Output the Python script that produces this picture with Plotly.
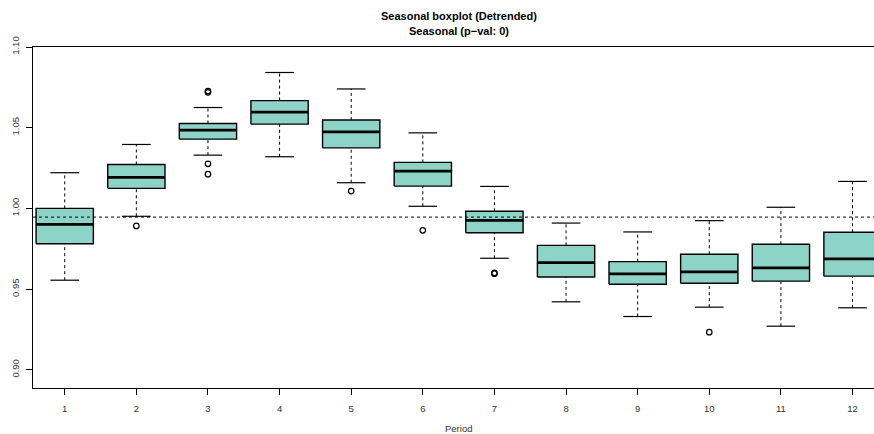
import plotly.graph_objects as go

periods = [1, 2, 3, 4, 5, 6, 7, 8, 9, 10, 11, 12]
lower_whisker = [0.9555, 0.9951, 1.0330, 1.0320, 1.0159, 1.0013, 0.9691, 0.9421, 0.9330, 0.9388, 0.9270, 0.9384]
q1 = [0.9781, 1.0124, 1.0429, 1.0522, 1.0375, 1.0138, 0.9849, 0.9575, 0.9530, 0.9536, 0.9549, 0.9580]
median = [0.9901, 1.0192, 1.0485, 1.0596, 1.0474, 1.0231, 0.9926, 0.9664, 0.9594, 0.9606, 0.9631, 0.9687]
q3 = [1.0000, 1.0272, 1.0526, 1.0668, 1.0548, 1.0285, 0.9982, 0.9771, 0.9670, 0.9716, 0.9778, 0.9852]
upper_whisker = [1.0221, 1.0396, 1.0625, 1.0842, 1.0740, 1.0468, 1.0136, 0.9909, 0.9854, 0.9924, 1.0007, 1.0167]
outlier_period = [2, 3, 3, 3, 3, 5, 6, 7, 7, 10]
outlier_value = [0.9891, 1.0727, 1.0719, 1.0276, 1.0212, 1.0107, 0.9864, 0.9600, 0.9595, 0.9233]
reference_level = 0.9946
tick_vals_y = [0.90, 0.95, 1.00, 1.05, 1.10]
tick_text_y = ["0.90", "0.95", "1.00", "1.05", "1.10"]

FILL = "#8DD3C7"
BOX_HALF = 0.4
CAP_HALF = 0.2

fig = go.Figure()

# whiskers (dashed)
wx, wy = [], []
for p, lw, a, b, uw in zip(periods, lower_whisker, q1, q3, upper_whisker):
    wx += [p, p, None, p, p, None]
    wy += [lw, a, None, b, uw, None]
fig.add_trace(go.Scatter(x=wx, y=wy, mode="lines",
                         line=dict(color="black", width=1, dash="3px,3px"),
                         hoverinfo="skip", showlegend=False))

# caps
cx, cy = [], []
for p, lw, uw in zip(periods, lower_whisker, upper_whisker):
    cx += [p - CAP_HALF, p + CAP_HALF, None, p - CAP_HALF, p + CAP_HALF, None]
    cy += [lw, lw, None, uw, uw, None]
fig.add_trace(go.Scatter(x=cx, y=cy, mode="lines",
                         line=dict(color="black", width=1.2),
                         hoverinfo="skip", showlegend=False))

# boxes
for p, a, b in zip(periods, q1, q3):
    fig.add_trace(go.Scatter(
        x=[p - BOX_HALF, p + BOX_HALF, p + BOX_HALF, p - BOX_HALF, p - BOX_HALF],
        y=[a, a, b, b, a], mode="lines", fill="toself", fillcolor=FILL,
        line=dict(color="black", width=1.4), hoverinfo="skip", showlegend=False))

# medians
mx, my = [], []
for p, m in zip(periods, median):
    mx += [p - BOX_HALF, p + BOX_HALF, None]
    my += [m, m, None]
fig.add_trace(go.Scatter(x=mx, y=my, mode="lines",
                         line=dict(color="black", width=2.8),
                         hoverinfo="skip", showlegend=False))

# outliers
fig.add_trace(go.Scatter(x=outlier_period, y=outlier_value, mode="markers",
                         marker=dict(symbol="circle-open", size=5.5, color="black",
                                     line=dict(width=1.2, color="black")),
                         hoverinfo="skip", showlegend=False))

# reference level
fig.add_hline(y=reference_level, line=dict(color="black", width=1, dash="3px,3px"))

FONT = "Liberation Sans, Arial, Helvetica, sans-serif"

fig.update_layout(
    width=874, height=434,
    margin=dict(l=33, r=0, t=47, b=46),
    paper_bgcolor="white", plot_bgcolor="white",
    font=dict(family=FONT, size=9.5, color="#333"),
    xaxis=dict(range=[0.557, 12.30], tickvals=periods,
               ticktext=[str(p) for p in periods],
               showgrid=False, zeroline=False, showline=True, linecolor="black",
               linewidth=1.3, mirror=True, ticks="outside", ticklen=6,
               tickcolor="black", tickwidth=1, ticklabelstandoff=5),
    yaxis=dict(range=[0.8887, 1.10], tickvals=tick_vals_y, ticktext=tick_text_y,
               showgrid=False, zeroline=False, showline=True, linecolor="black",
               linewidth=1.3, ticks="outside", ticklen=6, tickcolor="black",
               tickwidth=1, tickangle=-90, ticklabelstandoff=3),
    annotations=[
        dict(text="<b>Seasonal boxplot (Detrended)</b>", x=0.506, y=1.0899,
             xref="paper", yref="paper", showarrow=False, xanchor="center",
             yanchor="middle", font=dict(size=11, color="black", family=FONT)),
        dict(text="<b>Seasonal (p\u2212val: 0)</b>", x=0.506, y=1.0468,
             xref="paper", yref="paper", showarrow=False, xanchor="center",
             yanchor="middle", font=dict(size=11, color="black", family=FONT)),
        dict(text="Period", x=0.506, y=-0.118, xref="paper", yref="paper",
             showarrow=False, xanchor="center", yanchor="middle",
             font=dict(size=9.5, color="#333", family=FONT)),
    ],
)

fig.write_html("out.html")
